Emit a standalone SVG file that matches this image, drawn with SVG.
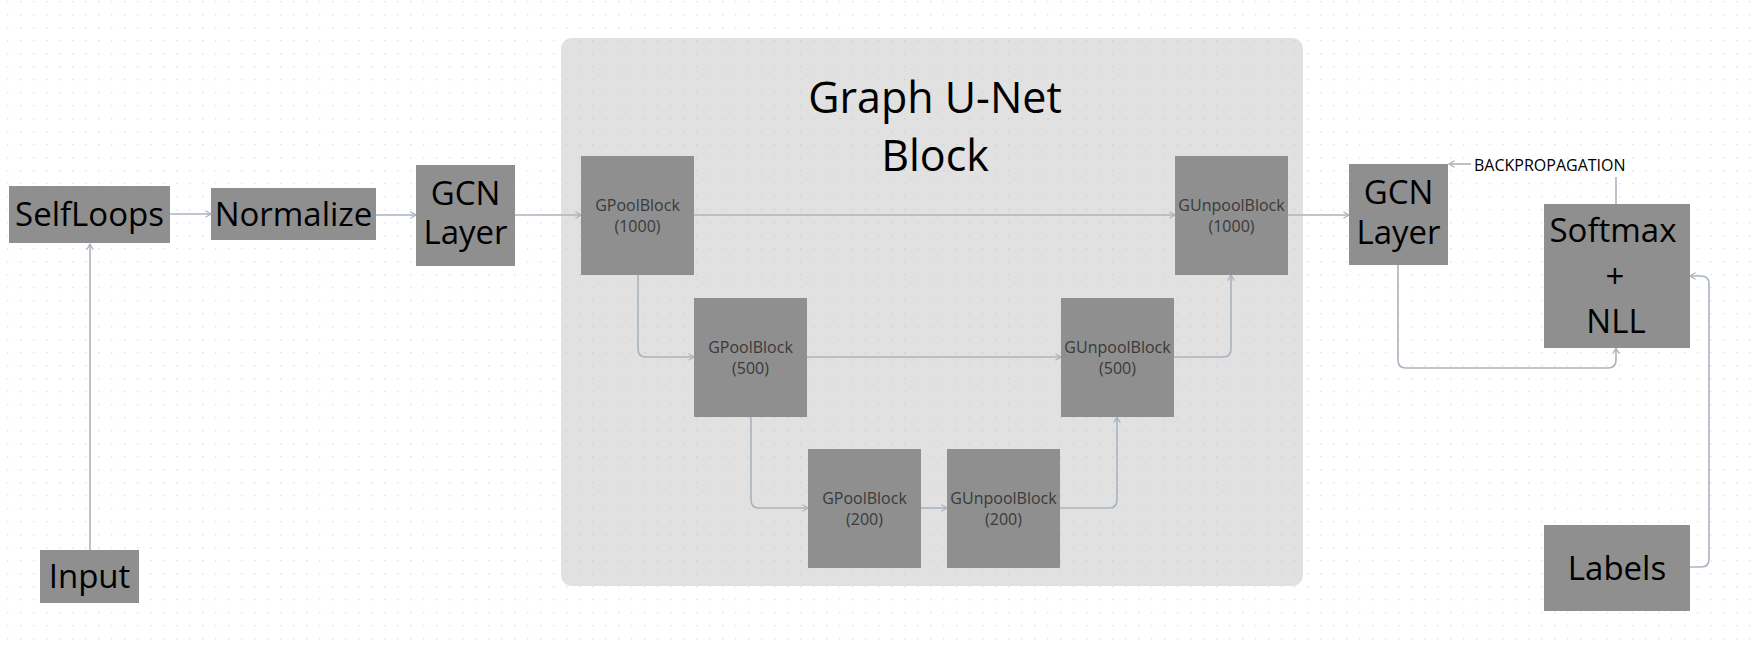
<svg xmlns="http://www.w3.org/2000/svg" width="1758" height="650" viewBox="0 0 1758 650">
  <defs>
    <pattern id="dots" x="7" y="1" width="13" height="13" patternUnits="userSpaceOnUse">
      <circle cx="0.5" cy="0.5" r="1.1" fill="#e3e3e8"/>
    </pattern>
    <pattern id="dots2" x="7" y="1" width="13" height="13" patternUnits="userSpaceOnUse">
      <circle cx="0.5" cy="0.5" r="1.1" fill="#d2d2d4"/>
    </pattern>
    <marker id="arr" viewBox="0 0 10 10" refX="9" refY="5" markerWidth="8" markerHeight="8" markerUnits="userSpaceOnUse" orient="auto">
      <path d="M2,1 L9,5 L2,9" fill="none" stroke="#a9b4bf" stroke-width="1.6"/>
    </marker>
    <style>
      .box { fill: #8f8f8f; }
      .big { font-family: "Open Sans", "Liberation Sans", sans-serif; font-size: 33px; fill: #000; text-anchor: middle; }
      .small { font-family: "Open Sans", "Liberation Sans", sans-serif; font-size: 16px; fill: #3a3a3a; text-anchor: middle; }
      .title { font-family: "Open Sans", "Liberation Sans", sans-serif; font-size: 43px; fill: #000; text-anchor: middle; }
      .lbl { font-family: "Open Sans", "Liberation Sans", sans-serif; font-size: 16px; fill: #000; }
      .conn { fill: none; stroke: #a9b4bf; stroke-width: 1.6; }
    </style>
  </defs>

  <rect x="0" y="0" width="1758" height="650" fill="#ffffff"/>
  <rect x="0" y="0" width="1758" height="650" fill="url(#dots)"/>

  <g id="unet-container">
    <rect x="561" y="38" width="742" height="548" rx="11" fill="#e1e1e1"/>
    <rect x="561" y="38" width="742" height="548" rx="11" fill="url(#dots2)"/>
    <text class="title" x="935" y="113">Graph U-Net</text>
    <text class="title" x="935" y="171">Block</text>
  </g>

  <g id="connectors">
    <path class="conn" d="M90,550 L90,244" marker-end="url(#arr)"/>
    <path class="conn" d="M170,214 L211,214" marker-end="url(#arr)"/>
    <path class="conn" d="M376,215 L416,215" marker-end="url(#arr)"/>
    <path class="conn" d="M515,215 L581,215" marker-end="url(#arr)"/>
    <path class="conn" d="M694,215 L1175,215" marker-end="url(#arr)"/>
    <path class="conn" d="M638,275 L638,349 Q638,357 646,357 L694,357" marker-end="url(#arr)"/>
    <path class="conn" d="M807,357 L1061,357" marker-end="url(#arr)"/>
    <path class="conn" d="M751,417 L751,500 Q751,508 759,508 L808,508" marker-end="url(#arr)"/>
    <path class="conn" d="M921,508 L947,508" marker-end="url(#arr)"/>
    <path class="conn" d="M1060,508 L1109,508 Q1117,508 1117,500 L1117,417" marker-end="url(#arr)"/>
    <path class="conn" d="M1174,357 L1223,357 Q1231,357 1231,349 L1231,275" marker-end="url(#arr)"/>
    <path class="conn" d="M1288,215 L1349,215" marker-end="url(#arr)"/>
    <path class="conn" d="M1398,265 L1398,360 Q1398,368 1406,368 L1608,368 Q1616,368 1616,360 L1616,348" marker-end="url(#arr)"/>
    <path class="conn" d="M1690,567 L1701,567 Q1709,567 1709,559 L1709,284 Q1709,276 1701,276 L1690,276" marker-end="url(#arr)"/>
    <path class="conn" d="M1616,204 L1616,177"/>
    <path class="conn" d="M1471,164 L1449,164" marker-end="url(#arr)"/>
    <text class="lbl" x="1474" y="171">BACKPROPAGATION</text>
  </g>

  <g id="input">
    <rect class="box" x="40" y="550" width="99" height="53"/>
    <text class="big" x="89.5" y="588">Input</text>
  </g>
  <g id="selfloops">
    <rect class="box" x="9" y="186" width="161" height="57"/>
    <text class="big" x="89.5" y="226">SelfLoops</text>
  </g>
  <g id="normalize">
    <rect class="box" x="211" y="188" width="165" height="52"/>
    <text class="big" x="293.5" y="226">Normalize</text>
  </g>
  <g id="gcn1">
    <rect class="box" x="416" y="165" width="99" height="101"/>
    <text class="big" x="465.5" y="205">GCN</text>
    <text class="big" x="465.5" y="244">Layer</text>
  </g>
  <g id="gpool1000">
    <rect class="box" x="581" y="156" width="113" height="119"/>
    <text class="small" x="637.5" y="211">GPoolBlock</text>
    <text class="small" x="637.5" y="232">(1000)</text>
  </g>
  <g id="gpool500">
    <rect class="box" x="694" y="298" width="113" height="119"/>
    <text class="small" x="750.5" y="353">GPoolBlock</text>
    <text class="small" x="750.5" y="374">(500)</text>
  </g>
  <g id="gpool200">
    <rect class="box" x="808" y="449" width="113" height="119"/>
    <text class="small" x="864.5" y="504">GPoolBlock</text>
    <text class="small" x="864.5" y="525">(200)</text>
  </g>
  <g id="gunpool200">
    <rect class="box" x="947" y="449" width="113" height="119"/>
    <text class="small" x="1003.5" y="504">GUnpoolBlock</text>
    <text class="small" x="1003.5" y="525">(200)</text>
  </g>
  <g id="gunpool500">
    <rect class="box" x="1061" y="298" width="113" height="119"/>
    <text class="small" x="1117.5" y="353">GUnpoolBlock</text>
    <text class="small" x="1117.5" y="374">(500)</text>
  </g>
  <g id="gunpool1000">
    <rect class="box" x="1175" y="156" width="113" height="119"/>
    <text class="small" x="1231.5" y="211">GUnpoolBlock</text>
    <text class="small" x="1231.5" y="232">(1000)</text>
  </g>
  <g id="gcn2">
    <rect class="box" x="1349" y="164" width="99" height="101"/>
    <text class="big" x="1398.5" y="204">GCN</text>
    <text class="big" x="1398.5" y="244">Layer</text>
  </g>
  <g id="softmax-nll">
    <rect class="box" x="1544" y="204" width="146" height="144"/>
    <text class="big" x="1613" y="242">Softmax</text>
    <text class="big" x="1615" y="288">+</text>
    <text class="big" x="1616" y="333">NLL</text>
  </g>
  <g id="labels">
    <rect class="box" x="1544" y="525" width="146" height="86"/>
    <text class="big" x="1617" y="580">Labels</text>
  </g>
</svg>
